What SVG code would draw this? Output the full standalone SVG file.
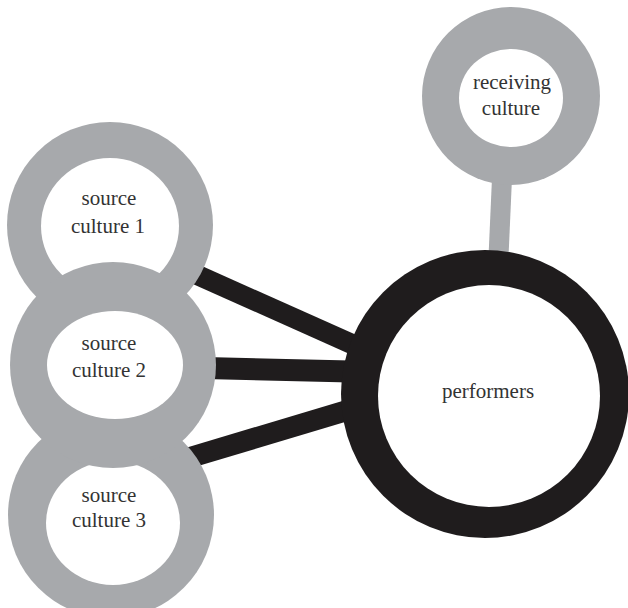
<svg xmlns="http://www.w3.org/2000/svg" width="628" height="608" viewBox="0 0 628 608">
<style>
.grey{fill:#a7a9ac}
.white{fill:#ffffff}
.black{fill:#1f1c1d}
.bar{stroke:#1f1c1d;stroke-linecap:butt;fill:none}
.lbl{font-family:"Liberation Serif","Times New Roman",serif;font-size:21px;fill:#333333;text-anchor:middle}
</style>
<rect width="628" height="608" fill="#ffffff"/>
<g id="connectors">
<line class="bar" x1="175" y1="265" x2="372" y2="353" stroke-width="20"/>
<line class="bar" x1="205" y1="368" x2="372" y2="372" stroke-width="22"/>
<line class="bar" x1="185" y1="459" x2="372" y2="403" stroke-width="21"/>
<polygon class="grey" points="492,178 512,178 508,268 488,268"/>
</g>
<g id="performers">
<circle class="black" cx="485" cy="394" r="144"/>
<circle class="white" cx="489" cy="396" r="111"/>
<text class="lbl" x="488" y="398">performers</text>
</g>
<g id="receiving-culture">
<circle class="grey" cx="511" cy="96" r="89"/>
<ellipse class="white" cx="511" cy="98" rx="52" ry="49"/>
<text class="lbl" x="512" y="89">receiving</text>
<text class="lbl" x="511" y="115">culture</text>
</g>
<g id="source-culture-1">
<circle class="grey" cx="110" cy="225" r="103"/>
<ellipse class="white" cx="110" cy="226" rx="69" ry="68"/>
<text class="lbl" x="109" y="205">source</text>
<text class="lbl" x="108" y="233">culture 1</text>
</g>
<g id="source-culture-3">
<circle class="grey" cx="111" cy="515" r="103"/>
<ellipse class="white" cx="113" cy="523" rx="67" ry="62"/>
<text class="lbl" x="109" y="502">source</text>
<text class="lbl" x="109" y="527">culture 3</text>
</g>
<g id="source-culture-2">
<circle class="grey" cx="113" cy="365" r="103"/>
<ellipse class="white" cx="115" cy="365" rx="68" ry="54"/>
<text class="lbl" x="109" y="350">source</text>
<text class="lbl" x="109" y="377">culture 2</text>
</g>
</svg>
